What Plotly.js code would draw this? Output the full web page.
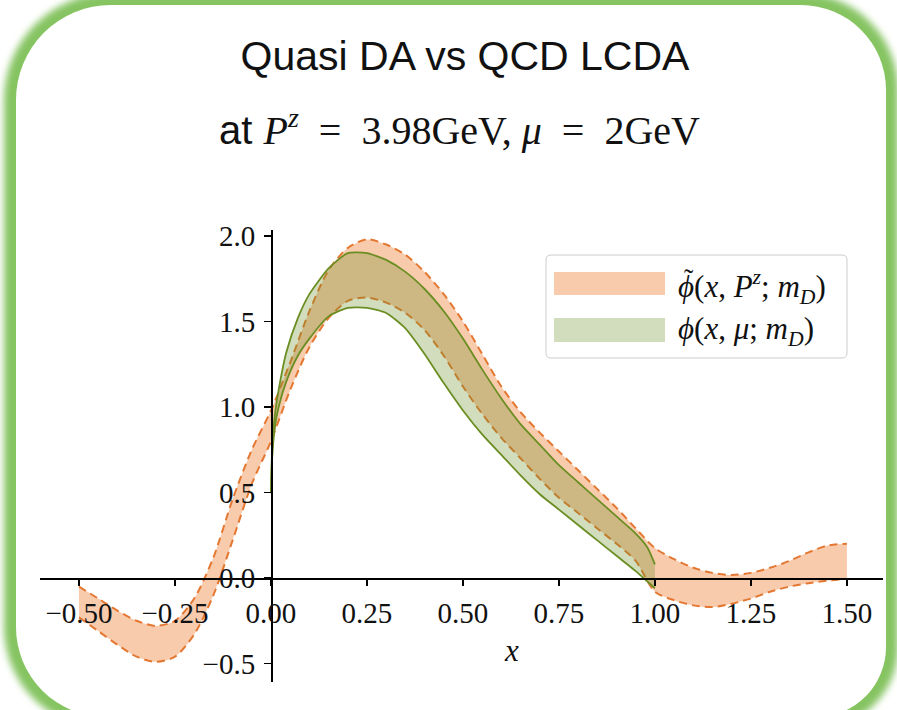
<!DOCTYPE html>
<html>
<head>
<meta charset="utf-8">
<script src="https://cdn.plot.ly/plotly-3.0.1.min.js"></script>
<style>
  html, body { margin: 0; padding: 0; background: #ffffff; width: 897px; height: 710px; overflow: hidden; }
  #frame { position: absolute; left: 16px; top: 5px; width: 870px; height: 712px;
           background: #ffffff; border-radius: 95px 85px 70px 90px;
           box-shadow: 0 0 7px 12px rgb(134,196,98); }
  #chart { position: absolute; left: 0; top: 0; width: 897px; height: 710px; }
</style>
</head>
<body>
<div id="frame"></div>
<div id="chart"></div>
<script>
// ---------- data ----------
// quasi DA band (orange)
const xQuasi = [-0.5,-0.45,-0.4,-0.35,-0.3,-0.25,-0.2,-0.15,-0.1,-0.05,0,0.05,0.1,0.15,0.2,0.25,0.3,0.35,0.4,0.45,0.5,0.55,0.6,0.65,0.7,0.75,0.8,0.85,0.9,0.95,1.0,1.05,1.1,1.15,1.2,1.25,1.3,1.35,1.4,1.45,1.5];
const quasiUpper = [-0.05,-0.12,-0.19,-0.25,-0.28,-0.25,-0.12,0.12,0.46,0.75,0.98,1.26,1.56,1.80,1.93,1.98,1.95,1.89,1.79,1.66,1.50,1.31,1.12,0.97,0.85,0.74,0.63,0.52,0.41,0.29,0.175,0.11,0.06,0.03,0.018,0.03,0.06,0.10,0.15,0.19,0.20];
const quasiLower = [-0.23,-0.31,-0.39,-0.46,-0.49,-0.46,-0.33,-0.10,0.22,0.55,0.80,1.10,1.35,1.52,1.62,1.64,1.61,1.55,1.45,1.30,1.12,0.96,0.82,0.70,0.58,0.47,0.38,0.29,0.20,0.10,-0.08,-0.13,-0.16,-0.17,-0.15,-0.12,-0.08,-0.05,-0.03,-0.015,-0.005];
// QCD LCDA band (green)
const xLcda = [0,0.003,0.01,0.02,0.04,0.07,0.1,0.15,0.2,0.25,0.3,0.35,0.4,0.45,0.5,0.55,0.6,0.65,0.7,0.75,0.8,0.85,0.9,0.95,0.98,1.0];
const lcdaUpper = [0.50,0.75,0.95,1.10,1.32,1.52,1.66,1.81,1.90,1.90,1.86,1.79,1.69,1.56,1.40,1.22,1.05,0.90,0.78,0.66,0.56,0.46,0.36,0.26,0.18,0.08];
const lcdaLower = [0.50,0.70,0.88,1.00,1.15,1.30,1.40,1.53,1.58,1.58,1.55,1.46,1.31,1.14,0.98,0.84,0.72,0.60,0.49,0.40,0.31,0.22,0.13,0.04,-0.02,-0.06];
// ticks and labels
const xTicks = [-0.5,-0.25,0,0.25,0.5,0.75,1.0,1.25,1.5];
const yTicks = [-0.5,0,0.5,1.0,1.5,2.0];
const legendLabels = ['<i>ϕ</i>(<i>x</i>, <i>P</i><sup><i>z</i></sup>; <i>m</i><sub><i>D</i></sub>)',
                      '<i>ϕ</i>(<i>x</i>, <i>μ</i>; <i>m</i><sub><i>D</i></sub>)'];
const legendTilde = '˜';
const titleLine1 = 'Quasi DA vs QCD LCDA';
const titleLine2 = 'at <span style="font-family:\'Liberation Serif\'"><i>P</i><sup><i>z</i></sup>\u2002=\u20023.98GeV, <i>μ</i>\u2002=\u20022GeV</span>';

// ---------- styling ----------
const orangeLine = 'rgb(228,120,50)';
const orangeFill = 'rgba(237,125,49,0.40)';
const greenLine = 'rgb(107,142,35)';
const greenFill = 'rgba(107,142,35,0.30)';
const serif = "'Liberation Serif', 'Times New Roman', serif";
const sans = "'Liberation Sans', Arial, sans-serif";

const W = 897, H = 710;
const L = 40, R = 883, T = 230, B = 682;
const xRange = [-0.6016, 1.594];
const yRange = [-0.608, 2.035];
const px = (p) => (p - L) / (R - L);
const py = (p) => (B - p) / (B - T);

const dashed = {color: orangeLine, width: 2, dash: '8px,5px', shape: 'spline', smoothing: 0.8};
const solid = {color: greenLine, width: 1.8, shape: 'spline', smoothing: 0.6};
const traces = [
  {x: xQuasi, y: quasiLower, mode: 'lines', line: dashed, showlegend: false},
  {x: xQuasi, y: quasiUpper, mode: 'lines', fill: 'tonexty', fillcolor: orangeFill, line: dashed, showlegend: false},
  {x: xLcda, y: lcdaLower, mode: 'lines', line: solid, showlegend: false},
  {x: xLcda, y: lcdaUpper, mode: 'lines', fill: 'tonexty', fillcolor: greenFill, line: solid, showlegend: false}
];

function roundRect(x0, y0, x1, y1, r) {
  const rx = r / (R - L), ry = r / (B - T);
  const a = px(x0), b = px(x1), c = py(y1), d = py(y0);
  return `M${a+rx},${c} L${b-rx},${c} Q${b},${c} ${b},${c+ry} L${b},${d-ry} Q${b},${d} ${b-rx},${d} L${a+rx},${d} Q${a},${d} ${a},${d-ry} L${a},${c+ry} Q${a},${c} ${a+rx},${c} Z`;
}

const shapes = [
  {type: 'path', xref: 'paper', yref: 'paper', path: roundRect(546, 255, 847, 358, 5), fillcolor: 'rgba(255,255,255,0.8)', line: {color: '#cccccc', width: 1}},
  {type: 'rect', xref: 'paper', yref: 'paper', x0: px(554), x1: px(665), y0: py(295), y1: py(272), fillcolor: orangeFill, line: {width: 0}},
  {type: 'rect', xref: 'paper', yref: 'paper', x0: px(554), x1: px(665), y0: py(342), y1: py(318), fillcolor: greenFill, line: {width: 0}}
];

const annotations = [
  {xref: 'paper', yref: 'paper', x: px(459), y: py(128), text: titleLine2, showarrow: false, xanchor: 'center', yanchor: 'middle', font: {family: sans, size: 40, color: '#111'}},
  {xref: 'paper', yref: 'paper', x: px(676), y: py(287), text: legendLabels[0], showarrow: false, xanchor: 'left', yanchor: 'middle', font: {family: serif, size: 31, color: '#111'}},
  {xref: 'paper', yref: 'paper', x: px(689), y: py(278), text: legendTilde, showarrow: false, xanchor: 'center', yanchor: 'middle', font: {family: serif, size: 28, color: '#111'}},
  {xref: 'paper', yref: 'paper', x: px(676), y: py(331), text: legendLabels[1], showarrow: false, xanchor: 'left', yanchor: 'middle', font: {family: serif, size: 31, color: '#111'}},
  {xref: 'paper', yref: 'paper', x: px(511), y: py(650), text: '<i>x</i>', showarrow: false, xanchor: 'center', yanchor: 'middle', font: {family: serif, size: 31, color: '#111'}}
];

const layout = {
  width: W, height: H,
  margin: {l: L, r: W - R, t: T, b: H - B, pad: 0},
  paper_bgcolor: 'rgba(0,0,0,0)',
  plot_bgcolor: 'rgba(0,0,0,0)',
  showlegend: false,
  title: {text: titleLine1, x: 465 / W, xref: 'container', xanchor: 'center', y: 1 - 56 / H, yref: 'container', yanchor: 'middle',
          font: {family: sans, size: 41, color: '#111'}},
  xaxis: {range: xRange, anchor: 'free', position: (0 - yRange[0]) / (yRange[1] - yRange[0]),
          showgrid: false, zeroline: false, showline: true, linecolor: '#000', linewidth: 1.6,
          ticks: 'outside', ticklen: 6, tickwidth: 1.5, tickcolor: '#000',
          tickvals: xTicks, tickformat: '.2f', ticklabelstandoff: 3,
          tickfont: {family: serif, size: 29, color: '#111'}},
  yaxis: {range: yRange, anchor: 'free', position: (0 - xRange[0]) / (xRange[1] - xRange[0]),
          showgrid: false, zeroline: false, showline: true, linecolor: '#000', linewidth: 1.6,
          ticks: 'outside', ticklen: 7, tickwidth: 1.5, tickcolor: '#000',
          tickvals: yTicks, tickformat: '.1f', ticklabelstandoff: 3,
          tickfont: {family: serif, size: 29, color: '#111'}},
  shapes: shapes,
  annotations: annotations
};

Plotly.newPlot('chart', traces, layout, {staticPlot: true, displayModeBar: false});
</script>
</body>
</html>
